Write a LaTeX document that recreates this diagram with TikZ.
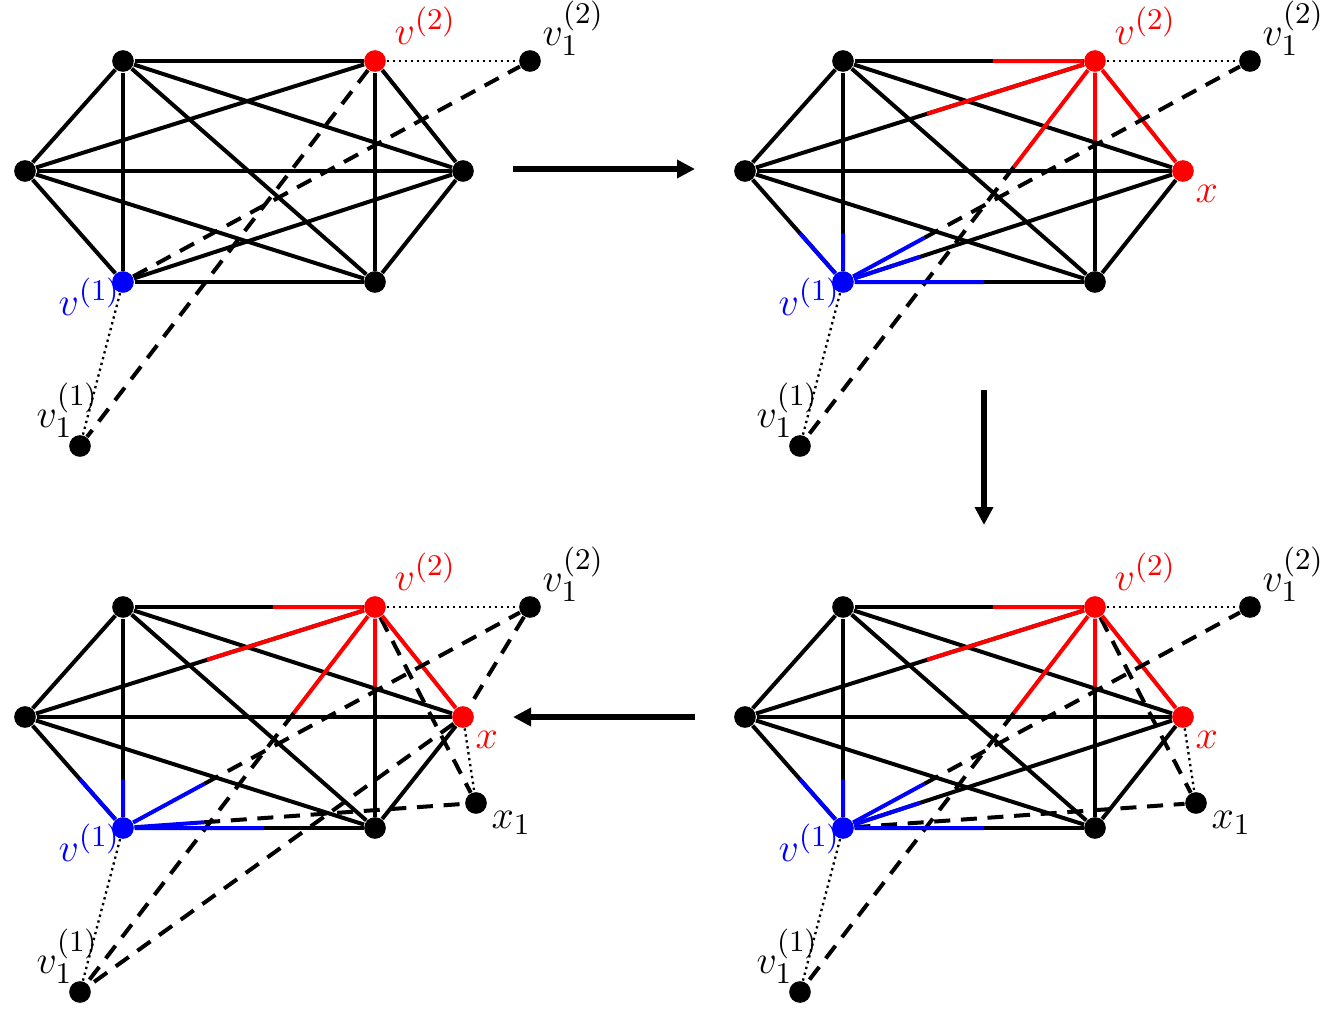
\documentclass[tikz,border=0pt]{standalone}
\usetikzlibrary{calc,arrows.meta}
\tikzset{
  vtx/.style={circle,fill=black,inner sep=0pt,minimum size=6.5pt},
  edgeb/.style={line width=1.2pt},
  edged/.style={line width=1.2pt,dash pattern=on 4.8pt off 3.2pt},
  edgedot/.style={line width=0.7pt,dash pattern=on 0.7pt off 1.1pt},
  lab/.style={anchor=base west,inner sep=0pt,font=\fontsize{12.4}{14}\selectfont},
  bigarrow/.style={line width=1.65pt,-{Triangle[length=5.4pt,width=5.3pt]}},
}
\newcommand\placegraph[1]{%
  \node[vtx] (TL) at (123,61) {};
  \node[vtx,fill=red] (V2) at (375,61) {};
  \node[vtx] (L) at (25,171) {};
  \node[vtx,fill=#1] (X) at (463,171) {};
  \node[vtx,fill=blue] (V1) at (123,282) {};
  \node[vtx] (BR) at (375,282) {};
  \node[vtx] (F2) at (530,61) {};
  \node[vtx] (F1) at (80,446) {};
  \node[lab,text=red] (lV2) at (394,44) {$v^{(2)}$};
  \node[lab] (lF2) at (542,45) {$v_1^{(2)}$};
  \node[lab,text=blue] (lV1) at (58,315) {$v^{(1)}$};
  \node[lab] (lF1) at (36,427) {$v_1^{(1)}$};
  \draw[edgedot] (V2) -- (F2);
  \draw[edgedot] (V1) -- (F1);
  \foreach \a/\b in {TL/L, TL/X, TL/BR, L/X, L/BR, X/BR} \draw[edgeb] (\a) -- (\b);
}
\newcommand\splitedge[4]{%
  \draw[edgeb] (#2) -- (#4);
  \draw[edgeb,#1] (#2) -- ($(#2)!#3!(#4)$);
}
\newcommand\splitdash[4]{%
  \draw[edged] ($(#2)!#3!(#4)$) -- (#4);
  \draw[edgeb,#1] (#2) -- ($(#2)!#3!(#4)$);
}
\newcommand\colourparts{%
  \splitedge{red}{V2}{0.405}{TL}
  \splitedge{red}{V2}{0.48}{L}
  \splitedge{red}{V2}{0.36}{BR}
  \draw[edgeb,red] (V2) -- (X);
  \splitdash{red}{V2}{0.275}{F1}
  \splitedge{blue}{V1}{0.22}{TL}
  \splitedge{blue}{V1}{0.44}{L}
  \splitedge{blue}{V1}{0.56}{BR}
  \splitdash{blue}{V1}{0.2}{F2}
  \node[lab,text=red] (lX) at (475,202) {$x$};
}
\newcommand\xonepart{%
  \node[vtx] (X1) at (476,257) {};
  \node[lab] (lX1) at (491,282) {$x_1$};
  \draw[edgedot] (X) -- (X1);
  \draw[edged] (V2) -- (X1);
}
\begin{document}
\begin{tikzpicture}[x=0.3pt,y=-0.3pt]
\useasboundingbox (0,0) rectangle (1325,1013);
% panel 1
\begin{scope}[name prefix=pa-]
  \placegraph{black}
  \foreach \a/\b in {TL/V2, TL/V1, V2/L, V2/X, V2/BR, L/V1, X/V1, V1/BR} \draw[edgeb] (\a) -- (\b);
  \draw[edged] (V1) -- (F2);
  \draw[edged] (V2) -- (F1);
\end{scope}
% panel 2
\begin{scope}[shift={(720,0)},name prefix=pb-]
  \placegraph{red}
  \colourparts
  \splitedge{blue}{V1}{0.227}{X}
\end{scope}
% panel 3
\begin{scope}[shift={(0,546)},name prefix=pc-]
  \placegraph{red}
  \xonepart
  \draw[edged] (X) -- (F1);
  \draw[edged] (F2) -- (X);
  \colourparts
  \splitdash{blue}{V1}{0.23}{X1}
\end{scope}
% panel 4
\begin{scope}[shift={(720,546)},name prefix=pd-]
  \placegraph{red}
  \xonepart
  \draw[edged] (V1) -- (X1);
  \colourparts
  \splitedge{blue}{V1}{0.227}{X}
\end{scope}
% arrows between panels
\coordinate (r1) at (513,169); \coordinate (r2) at (695,169);
\coordinate (d1) at (984,390); \coordinate (d2) at (984,525);
\coordinate (l1) at (695,717); \coordinate (l2) at (513,717);
\draw[bigarrow] (r1) -- (r2);
\draw[bigarrow] (d1) -- (d2);
\draw[bigarrow] (l1) -- (l2);
\end{tikzpicture}
\end{document}
